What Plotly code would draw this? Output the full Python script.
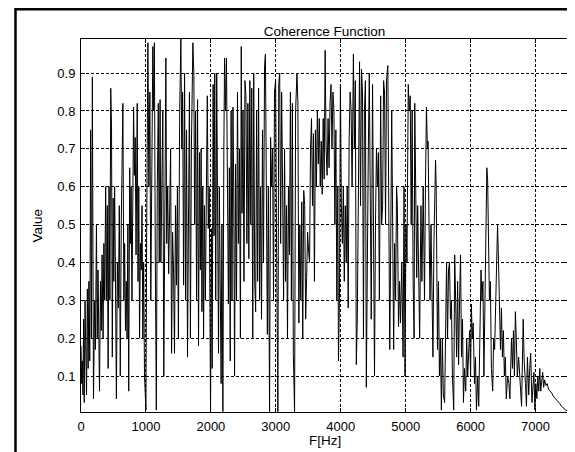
import plotly.graph_objects as go

# Frequency axis knots (Hz) and coherence values
freq_hz = [
    0, 10, 20, 30, 40, 50, 62, 72, 85, 98, 110, 122, 135, 148, 160, 175, 192, 210, 222, 238,
    250, 262, 272, 285, 300, 312, 325, 340, 352, 365, 380, 392, 405, 418, 432, 445, 458, 470, 482, 495,
    505, 518, 530, 545, 560, 575, 590, 605, 620, 645, 660, 672, 685, 698, 710, 722, 735, 750, 762, 772,
    785, 810, 822, 835, 848, 866, 878, 890, 902, 915, 928, 940, 952, 965, 978, 990, 1000,
    1012, 1030, 1045, 1060, 1075, 1090, 1106, 1118, 1130, 1145, 1160, 1175, 1190, 1205, 1218, 1230, 1245, 1260, 1275, 1290,
    1307, 1320, 1335, 1350, 1365, 1380, 1395, 1410, 1425, 1440, 1455, 1470, 1485, 1500, 1520, 1538, 1552, 1565, 1580, 1595,
    1610, 1625, 1640, 1655, 1670, 1685, 1700, 1723, 1738, 1750, 1765, 1780, 1795, 1810, 1825, 1838, 1850, 1862, 1875, 1888,
    1900, 1915, 1930, 1945, 1960, 1975, 1985, 1995,
    2010, 2020, 2035, 2048, 2060, 2075, 2090, 2105, 2118, 2130, 2145, 2158, 2170, 2185, 2200, 2211, 2225, 2240, 2255, 2270,
    2285, 2298, 2312, 2325, 2340, 2352, 2365, 2380, 2395, 2410, 2425, 2440, 2455, 2468, 2480, 2495, 2510, 2525, 2540, 2555,
    2570, 2585, 2600, 2615, 2630, 2645, 2660, 2675, 2690, 2705, 2720, 2735, 2750, 2765, 2780, 2795, 2810, 2827, 2840, 2855,
    2870, 2885, 2904, 2920, 2935, 2950, 2965, 2980, 2997, 3010, 3020, 3032,
    3045, 3060, 3075, 3090, 3105, 3120, 3135, 3150, 3165, 3180, 3195, 3210, 3225, 3240, 3255, 3270, 3289, 3305, 3326, 3340,
    3355, 3370, 3385, 3400, 3415, 3430, 3445, 3460, 3475, 3490, 3505, 3520, 3535, 3550, 3565, 3580, 3595, 3610, 3625, 3640,
    3655, 3670, 3685, 3700, 3715, 3730, 3745, 3760, 3775, 3790, 3805, 3820, 3835, 3850, 3865, 3880, 3895, 3910, 3925, 3940,
    3955, 3965, 3980, 3995,
    4010, 4025, 4040, 4055, 4070, 4085, 4100, 4115, 4130, 4145, 4160, 4175, 4195, 4210, 4225, 4240, 4255, 4268, 4290, 4305,
    4320, 4335, 4350, 4365, 4380, 4394, 4410, 4425, 4440, 4455, 4470, 4490, 4505, 4520, 4535, 4550, 4565, 4580, 4595, 4615,
    4630, 4645, 4660, 4675, 4690, 4705, 4725, 4740, 4755, 4770, 4785, 4800, 4815, 4830, 4845, 4860, 4872, 4890, 4905, 4920,
    4940, 4960, 4975, 4990,
    5005, 5020, 5040, 5055, 5070, 5085, 5100, 5115, 5130, 5140, 5155, 5170, 5185, 5200, 5215, 5235, 5250, 5270, 5290, 5305,
    5320, 5335, 5345, 5360, 5375, 5390, 5405, 5420, 5435, 5450, 5460, 5470, 5480, 5490, 5505, 5520, 5535, 5550,
    5565, 5580, 5600, 5615, 5630, 5645, 5660, 5675, 5690, 5705, 5720, 5740, 5755, 5770, 5785, 5800, 5815, 5830, 5845, 5860,
    5875, 5890, 5905, 5925, 5940, 5955, 5970, 5985, 6000, 6012, 6025, 6040, 6060, 6075, 6090, 6110, 6125, 6140, 6160, 6175,
    6190, 6205, 6220, 6235, 6250, 6262, 6275, 6290, 6305, 6320, 6340, 6355, 6370, 6385, 6400, 6415, 6430, 6445, 6460, 6475,
    6490, 6505, 6520, 6535, 6550, 6570, 6590, 6605, 6630, 6645, 6660, 6675, 6690, 6705, 6720, 6740, 6760, 6785, 6810, 6825,
    6845, 6860, 6875, 6895, 6910, 6925, 6945, 6960, 6975, 6990, 7005, 7020, 7035, 7050, 7065, 7080, 7095, 7110, 7125, 7140,
    7160, 7180, 7200, 7225, 7250, 7280, 7310, 7340, 7370, 7400, 7430, 7460, 7480, 7500,
]

coherence = [
    0.18, 0.08, 0.14, 0.05, 0.25, 0.03, 0.30, 0.12, 0.05, 0.33, 0.12, 0.35, 0.14, 0.75, 0.20, 0.89, 0.04, 0.30, 0.17, 0.50,
    0.20, 0.38, 0.16, 0.06, 0.35, 0.22, 0.42, 0.20, 0.45, 0.30, 0.60, 0.30, 0.55, 0.12, 0.60, 0.30, 0.86, 0.76, 0.15, 0.57,
    0.35, 0.60, 0.38, 0.04, 0.40, 0.28, 0.55, 0.10, 0.50, 0.82, 0.30, 0.45, 0.22, 0.35, 0.20, 0.50, 0.06, 0.65, 0.45, 0.60,
    0.30, 0.81, 0.63, 0.73, 0.42, 0.82, 0.35, 0.60, 0.20, 0.45, 0.38, 0.55, 0.20, 0.40, 0.10, 0.02, 0.01,
    0.50, 0.98, 0.60, 0.85, 0.30, 0.70, 0.97, 0.80, 0.98, 0.40, 0.01, 0.60, 0.82, 0.40, 0.83, 0.40, 0.65, 0.80, 0.10, 0.70,
    0.94, 0.45, 0.60, 0.37, 0.55, 0.70, 0.16, 0.48, 0.38, 0.16, 0.55, 0.34, 0.60, 0.20, 0.80, 0.99, 0.70, 0.85, 0.34, 0.90,
    0.30, 0.75, 0.15, 0.60, 0.85, 0.20, 0.70, 0.98, 0.90, 0.50, 0.80, 0.30, 0.83, 0.18, 0.69, 0.38, 0.70, 0.27, 0.60, 0.20,
    0.55, 0.30, 0.60, 0.84, 0.49, 0.60, 0.30, 0.01,
    0.49, 0.12, 0.87, 0.47, 0.90, 0.30, 0.90, 0.45, 0.16, 0.60, 0.30, 0.08, 0.50, 0.006, 0.70, 0.94, 0.80, 0.94, 0.62, 0.29,
    0.65, 0.14, 0.80, 0.30, 0.81, 0.60, 0.10, 0.66, 0.30, 0.85, 0.45, 0.70, 0.20, 0.97, 0.53, 0.80, 0.35, 0.88, 0.84, 0.45,
    0.82, 0.41, 0.88, 0.50, 0.86, 0.20, 0.90, 0.35, 0.27, 0.80, 0.35, 0.86, 0.30, 0.60, 0.25, 0.75, 0.40, 0.92, 0.95, 0.40,
    0.21, 0.60, 0.006, 0.73, 0.60, 0.70, 0.30, 0.85, 0.88, 0.50, 0.20, 0.006,
    0.87, 0.90, 0.45, 0.85, 0.60, 0.30, 0.70, 0.35, 0.55, 0.20, 0.60, 0.42, 0.85, 0.30, 0.82, 0.16, 0.006, 0.80, 0.90, 0.82,
    0.24, 0.50, 0.30, 0.56, 0.20, 0.59, 0.55, 0.25, 0.36, 0.48, 0.43, 0.40, 0.70, 0.78, 0.55, 0.74, 0.35, 0.75, 0.60, 0.80,
    0.66, 0.78, 0.60, 0.72, 0.58, 0.78, 0.62, 0.96, 0.70, 0.63, 0.78, 0.65, 0.82, 0.87, 0.70, 0.85, 0.80, 0.50, 0.75, 0.30,
    0.60, 0.14, 0.30, 0.87,
    0.55, 0.45, 0.60, 0.35, 0.55, 0.40, 0.60, 0.28, 0.73, 0.85, 0.80, 0.60, 0.95, 0.70, 0.88, 0.13, 0.25, 0.50, 0.93, 0.55,
    0.91, 0.85, 0.20, 0.80, 0.88, 0.07, 0.50, 0.70, 0.90, 0.65, 0.25, 0.87, 0.40, 0.10, 0.50, 0.70, 0.60, 0.69, 0.30, 0.84,
    0.50, 0.55, 0.88, 0.85, 0.50, 0.88, 0.92, 0.60, 0.17, 0.45, 0.80, 0.50, 0.17, 0.45, 0.30, 0.60, 0.55, 0.23, 0.35, 0.24,
    0.40, 0.15, 0.60, 0.10,
    0.50, 0.40, 0.87, 0.80, 0.84, 0.50, 0.80, 0.35, 0.20, 0.82, 0.60, 0.36, 0.55, 0.30, 0.20, 0.55, 0.35, 0.60, 0.30, 0.60,
    0.81, 0.70, 0.72, 0.50, 0.30, 0.50, 0.30, 0.15, 0.45, 0.60, 0.67, 0.60, 0.30, 0.17, 0.35, 0.10, 0.20, 0.01,
    0.20, 0.05, 0.03, 0.25, 0.40, 0.20, 0.38, 0.40, 0.25, 0.30, 0.10, 0.01, 0.42, 0.30, 0.15, 0.35, 0.13, 0.30, 0.42, 0.15,
    0.25, 0.03, 0.12, 0.06, 0.20, 0.10, 0.15, 0.22, 0.10, 0.29, 0.20, 0.24, 0.08, 0.15, 0.01, 0.10, 0.02, 0.20, 0.38, 0.30,
    0.35, 0.10, 0.30, 0.45, 0.65, 0.62, 0.45, 0.30, 0.35, 0.12, 0.06, 0.20, 0.17, 0.30, 0.45, 0.50, 0.40, 0.25, 0.17, 0.28,
    0.15, 0.22, 0.10, 0.15, 0.04, 0.10, 0.08, 0.04, 0.20, 0.12, 0.22, 0.10, 0.27, 0.19, 0.10, 0.15, 0.08, 0.02, 0.25, 0.14,
    0.08, 0.02, 0.15, 0.05, 0.12, 0.16, 0.03, 0.09, 0.11, 0.01, 0.08, 0.04, 0.10, 0.06, 0.12, 0.06, 0.09, 0.11, 0.07, 0.09,
    0.075, 0.08, 0.065, 0.06, 0.055, 0.045, 0.04, 0.035, 0.028, 0.02, 0.015, 0.01, 0.007, 0.005,
]

x_ticks = [0, 1000, 2000, 3000, 4000, 5000, 6000, 7000]
y_ticks = [0.1, 0.2, 0.3, 0.4, 0.5, 0.6, 0.7, 0.8, 0.9]

assert len(freq_hz) == len(coherence), (len(freq_hz), len(coherence))

# The page body has an 8px margin, so the figure is laid out 8px up/left of page coords.
OFF = 8
W, H = 575 - OFF, 452 - OFF
ML, MT = 81 - OFF, 39 - OFF
PLOT_RIGHT, PLOT_BOTTOM = 568 - OFF, 412 - OFF
MR, MB = W - PLOT_RIGHT, H - PLOT_BOTTOM
PW, PH = W - ML - MR, H - MT - MB

FONT = "Liberation Sans, Arial, sans-serif"
TICK_SIZE = 13
LABEL_SIZE = 13.5

fig = go.Figure()
fig.add_trace(go.Scatter(
    x=freq_hz, y=coherence, mode="lines",
    line=dict(color="black", width=1),
    showlegend=False, hoverinfo="skip",
))

axis_common = dict(
    showline=True, linecolor="black", linewidth=1, mirror="ticks",
    ticks="inside", ticklen=4, tickcolor="black",
    showgrid=True, gridcolor="black", gridwidth=1, griddash="3px,2px",
    zeroline=False, tickfont=dict(family=FONT, size=TICK_SIZE, color="black"),
    ticklabelstandoff=2,
)

fig.update_xaxes(range=[0, 7500], tickvals=x_ticks, ticktext=[str(v) for v in x_ticks], **axis_common)
fig.update_yaxes(range=[0.005, 0.99], tickvals=y_ticks, ticktext=[f"{v:.1f}" for v in y_ticks], **axis_common)


def px_x(page_x):
    return (page_x - OFF - ML) / PW


def px_y(page_y):
    return (H - MB - (page_y - OFF)) / PH


fig.update_layout(
    width=W, height=H,
    margin=dict(l=ML, r=MR, t=MT, b=MB, pad=0),
    paper_bgcolor="white", plot_bgcolor="white",
    font=dict(family=FONT, size=TICK_SIZE, color="black"),
    title=dict(text="Coherence Function", x=0.5, xanchor="center", xref="paper",
               y=1, yref="paper", yanchor="bottom", pad=dict(b=3),
               font=dict(family=FONT, size=LABEL_SIZE, color="black")),
    annotations=[
        dict(text="Value", xref="paper", yref="paper", x=px_x(37), y=0.5,
             textangle=-90, showarrow=False, xanchor="center", yanchor="middle",
             font=dict(family=FONT, size=LABEL_SIZE, color="black")),
        dict(text="F[Hz]", xref="paper", yref="paper", x=0.5, y=px_y(440),
             showarrow=False, xanchor="center", yanchor="middle",
             font=dict(family=FONT, size=LABEL_SIZE, color="black")),
    ],
    shapes=[
        dict(type="rect", xref="paper", yref="paper",
             x0=px_x(15.5), x1=px_x(620), y0=px_y(500), y1=px_y(9.2),
             line=dict(color="black", width=2.5), fillcolor="rgba(0,0,0,0)", layer="above"),
    ],
)

fig.write_html("out.html")
